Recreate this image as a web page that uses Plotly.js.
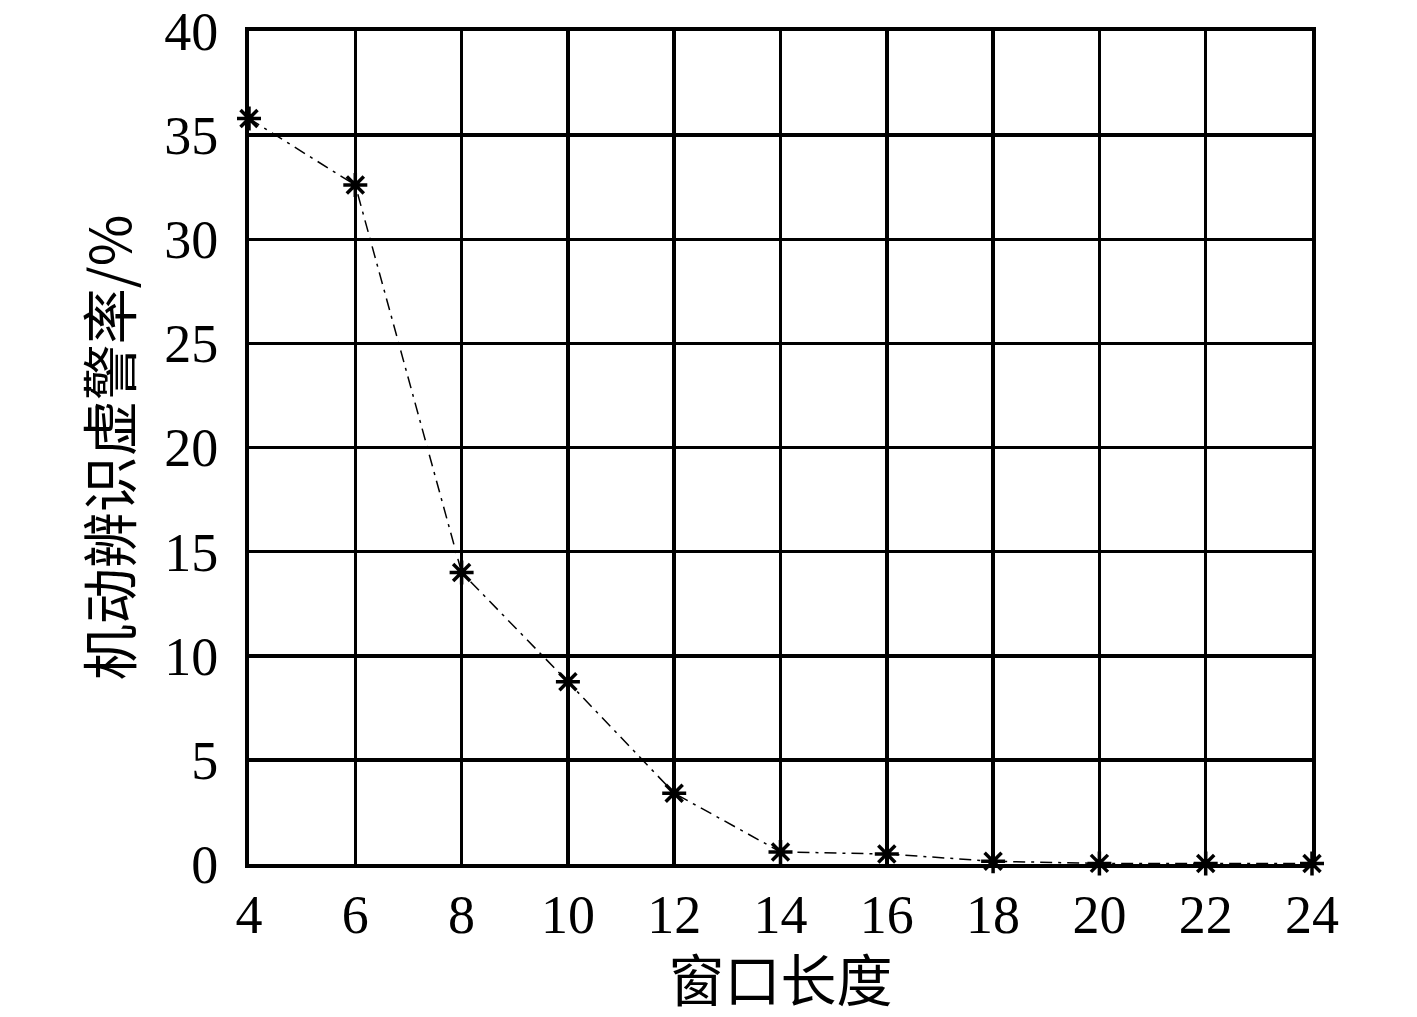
<!DOCTYPE html>
<html>
<head>
<meta charset="utf-8">
<script src="https://cdn.plot.ly/plotly-3.0.1.min.js"></script>
<style>
  html, body { margin: 0; padding: 0; background: #fff; }
  #chart { width: 1417px; height: 1017px; }
</style>
</head>
<body>
<div id="chart"></div>
<script>
var windowLen = [4, 6, 8, 10, 12, 14, 16, 18, 20, 22, 24];
var falseAlarm = [35.8, 32.6, 14.0, 8.75, 3.4, 0.58, 0.48, 0.13, 0.03, 0.02, 0.02];

var serif = 'Liberation Serif, Times New Roman, serif';
var cjk = 'Noto Sans CJK SC, sans-serif';

// dash-dot line with asterisk markers
var trace = {
    x: windowLen,
    y: falseAlarm,
    mode: 'lines+markers',
    line: { color: 'black', width: 1.5, dash: '12px,6px,3px,6px' },
    marker: { symbol: 'asterisk-open', size: 20, color: 'black', line: { color: 'black', width: 3.5 } },
    cliponaxis: false
};

var layout = {
    width: 1417,
    height: 1017,
    showlegend: false,
    paper_bgcolor: 'white',
    plot_bgcolor: 'white',
    margin: { l: 249, r: 105, t: 31, b: 153 },
    font: { family: serif, color: 'black' },
    xaxis: {
        range: [4, 24],
        tickvals: windowLen,
        showgrid: true,
        gridcolor: 'black',
        gridwidth: 3.5,
        zeroline: false,
        showline: true,
        linecolor: 'black',
        linewidth: 4,
        mirror: true,
        ticks: '',
        ticklabelstandoff: 0,
        automargin: true,
        tickfont: { family: serif, size: 54, color: 'black' },
        title: { text: '窗口长度', font: { family: cjk, size: 56, color: 'black' }, standoff: 14 }
    },
    yaxis: {
        range: [0, 40],
        dtick: 5,
        showgrid: true,
        gridcolor: 'black',
        gridwidth: 3.5,
        zeroline: false,
        showline: true,
        linecolor: 'black',
        linewidth: 4,
        mirror: true,
        ticks: '',
        ticklabelstandoff: 16,
        tickfont: { family: serif, size: 54, color: 'black' },
        title: { text: '机动辨识虚警率/%', font: { family: cjk, size: 56, color: 'black' }, standoff: 16 }
    }
};

Plotly.newPlot('chart', [trace], layout, { displayModeBar: false, staticPlot: true });
</script>
</body>
</html>
